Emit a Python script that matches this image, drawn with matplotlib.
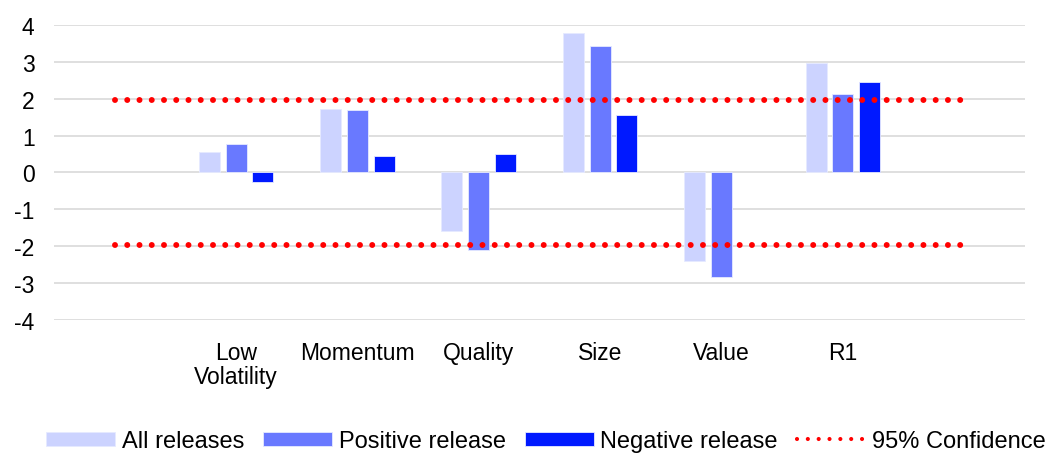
"""Event-study t-stats by factor, with 95% confidence band."""

import matplotlib

matplotlib.use("Agg")
import matplotlib.pyplot as plt
import numpy as np

plt.rcParams["font.family"] = ["Liberation Sans", "DejaVu Sans"]
plt.rcParams["axes.unicode_minus"] = False

# leading/trailing empty categories give the band its overhang
categories = ["", "Low\nVolatility", "Momentum", "Quality", "Size", "Value", "R1", ""]
all_releases = [np.nan, 0.54, 1.73, -1.60, 3.77, -2.41, 2.98, np.nan]
positive_release = [np.nan, 0.78, 1.68, -2.10, 3.44, -2.85, 2.12, np.nan]
negative_release = [np.nan, -0.26, 0.44, 0.51, 1.56, np.nan, 2.44, np.nan]
confidence = 1.96

series = [
    ("All releases", all_releases, "#CCD3FF"),
    ("Positive release", positive_release, "#6979FF"),
    ("Negative release", negative_release, "#0019FF"),
]

FS = 16.5

fig = plt.figure(figsize=(10.48, 4.56), dpi=100)
ax = fig.add_axes([0.0515, 0.2967, 0.9265, 0.6463])

x = np.arange(len(categories))
bar_w = 0.173
step = 0.221
for i, (label, vals, color) in enumerate(series):
    ax.bar(
        x + (i - 1) * step,
        vals,
        width=bar_w,
        color=color,
        edgecolor="#E6EAFF",
        linewidth=0.6,
        label=label,
        zorder=2,
    )

for sign in (1, -1):
    ax.plot(
        x,
        [sign * confidence] * len(x),
        color="#FF0000",
        linewidth=4.3,
        linestyle=(0, (0.001, 2.05)),
        dash_capstyle="round",
        label="95% Confidence" if sign == 1 else None,
        zorder=3,
    )

ax.set_xlim(-0.5, len(categories) - 0.5)
ax.set_ylim(-4, 4)
ax.set_yticks(range(-4, 5))
ax.set_xticks(x)
ax.set_xticklabels(categories, linespacing=1.1)
ax.tick_params(axis="both", length=0, labelsize=FS, colors="#000000")
ax.tick_params(axis="x", pad=15)
ax.tick_params(axis="y", pad=14)
ax.grid(axis="y", color="#D9D9D9", linewidth=1.2, zorder=0)
ax.set_axisbelow(True)
for spine in ax.spines.values():
    spine.set_visible(False)

handles, labels = ax.get_legend_handles_labels()
order = [1, 2, 3, 0]
leg = fig.legend(
    [handles[i] for i in order],
    [labels[i] for i in order],
    loc="center",
    bbox_to_anchor=(0.521, 0.03),
    ncol=4,
    frameon=False,
    fontsize=17,
    handlelength=2.95,
    handleheight=0.6,
    handletextpad=0.26,
    columnspacing=0.8,
    borderaxespad=0,
    borderpad=0,
)
for line in leg.get_lines():
    line.set_linewidth(3.0)
    line.set_linestyle((0, (0.001, 2.6)))
    line.set_dash_capstyle("round")

fig.savefig("out.png", dpi=100)
